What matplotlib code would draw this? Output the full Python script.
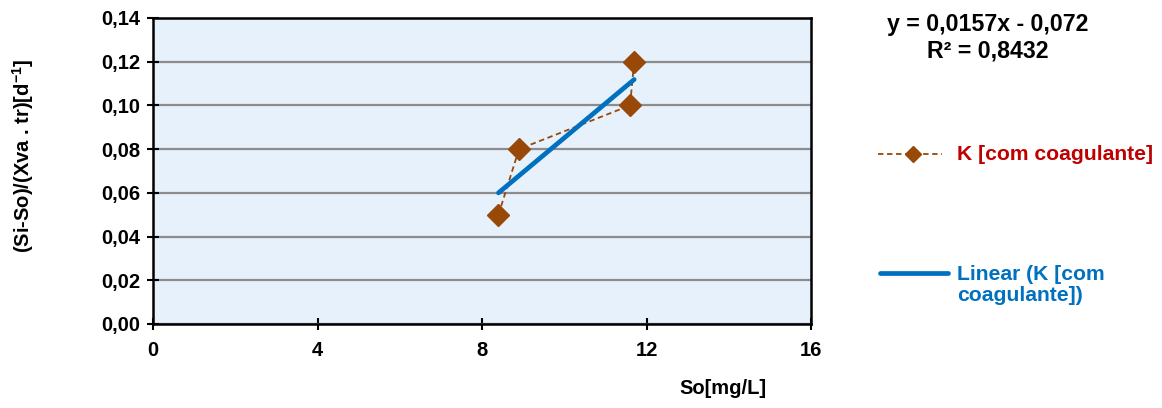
import numpy as np
import matplotlib
matplotlib.use("Agg")
import matplotlib.pyplot as plt
from matplotlib.lines import Line2D
from matplotlib.ticker import FuncFormatter

plt.rcParams['font.family'] = ['Liberation Sans', 'DejaVu Sans']
plt.rcParams['font.weight'] = 'bold'
plt.rcParams['mathtext.fontset'] = 'custom'
plt.rcParams['mathtext.rm'] = 'Liberation Sans:bold'
plt.rcParams['mathtext.bf'] = 'Liberation Sans:bold'
plt.rcParams['mathtext.default'] = 'bf'

# Observations
so_values = [8.4, 8.9, 11.6, 11.7]
k_values = [0.05, 0.08, 0.10, 0.12]
series_label = "K [com coagulante]"
trend_label = "Linear (K [com\ncoagulante])"
x_ticks = [0, 4, 8, 12, 16]
y_ticks = [0.00, 0.02, 0.04, 0.06, 0.08, 0.10, 0.12, 0.14]

brown = "#984807"
blue = "#0070C0"

# Linear fit
slope, intercept = np.polyfit(so_values, k_values, 1)
pred = np.polyval([slope, intercept], so_values)
ss_res = np.sum((np.array(k_values) - pred) ** 2)
ss_tot = np.sum((np.array(k_values) - np.mean(k_values)) ** 2)
r2 = 1 - ss_res / ss_tot
x_fit = np.array([min(so_values), max(so_values)])
y_fit = slope * x_fit + intercept

W, H = 1162, 408
fig = plt.figure(figsize=(W / 100, H / 100), dpi=100)
ax = fig.add_axes([153 / W, 1 - 324 / H, (811 - 153) / W, (324 - 18) / H])
ax.set_facecolor("#E6F1FC")

ax.plot(so_values, k_values, linestyle=(0, (3, 2)), color=brown, linewidth=1.3,
        marker="D", markersize=11, markerfacecolor=brown, markeredgecolor=brown, zorder=3)
ax.plot(x_fit, y_fit, color=blue, linewidth=3.4, solid_capstyle="round", zorder=4)

ax.set_xlim(0, 16)
ax.set_ylim(0, 0.14)
ax.set_xticks(x_ticks)
ax.set_yticks(y_ticks)
ax.yaxis.set_major_formatter(FuncFormatter(lambda v, p: f"{v:.2f}".replace(".", ",")))
ax.xaxis.set_major_formatter(FuncFormatter(lambda v, p: f"{v:.0f}"))
ax.grid(axis="y", color="#8C8C8C", linewidth=1.6)
ax.set_axisbelow(True)
for s in ax.spines.values():
    s.set_linewidth(1.8)
    s.set_color("black")
ax.tick_params(axis="both", direction="inout", length=8, width=1.5, labelsize=14.5)
ax.tick_params(axis="y", pad=5)
ax.tick_params(axis="x", pad=8)
for lbl in ax.get_xticklabels() + ax.get_yticklabels():
    lbl.set_fontweight("bold")

fig.text(23 / W, 1 - 156 / H, "(Si-So)/(Xva . tr)[d$^{-1}$]", rotation=90,
         ha="center", va="center", fontsize=14.5, fontweight="bold")
fig.text(723 / W, 1 - 388 / H, "So[mg/L]", ha="center", va="center",
         fontsize=14.5, fontweight="bold")

# Regression equation
sign = "-" if intercept < 0 else "+"
eq = f"y = {slope:.4f}x {sign} {abs(intercept):.3f}".replace(".", ",")
fig.text(988 / W, 1 - 25 / H, eq, ha="center", va="center", fontsize=16.7, fontweight="bold")
fig.text(988 / W, 1 - 51 / H, f"R² = {r2:.4f}".replace(".", ","), ha="center",
         va="center", fontsize=16.7, fontweight="bold")

# Legend
y1 = 1 - 154 / H
fig.add_artist(Line2D([878 / W, 942 / W], [y1, y1], transform=fig.transFigure,
                      color=brown, linestyle=(0, (3, 2)), linewidth=1.3))
fig.add_artist(Line2D([913 / W], [y1], transform=fig.transFigure, marker="D",
                      markersize=8, color=brown, linestyle="none"))
fig.text(957 / W, y1, series_label, ha="left", va="center", fontsize=15.2,
         fontweight="bold", color="#C00000")

y2 = 1 - 273 / H
fig.add_artist(Line2D([880 / W, 948 / W], [y2, y2], transform=fig.transFigure,
                      color=blue, linewidth=3.4, solid_capstyle="round"))
fig.text(957 / W, 1 - 285 / H, trend_label, ha="left", va="center",
         fontsize=15.2, fontweight="bold", color=blue, linespacing=1.1)

fig.savefig("out.png", dpi=100)
